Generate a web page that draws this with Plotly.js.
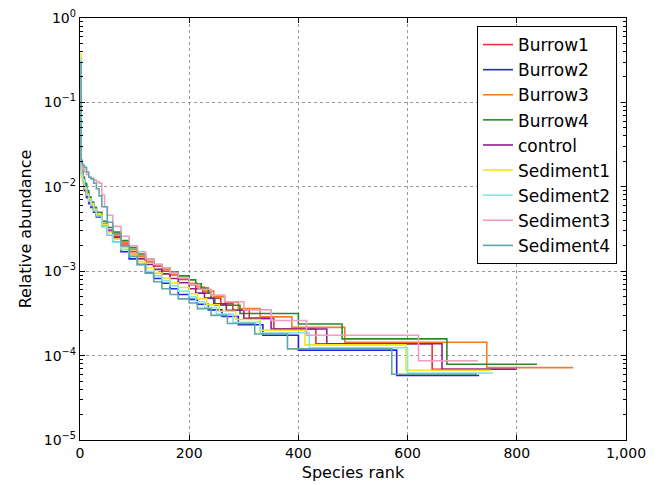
<!DOCTYPE html>
<html>
<head>
<meta charset="utf-8">
<script src="https://cdn.plot.ly/plotly-3.0.1.min.js"></script>
<style>html,body{margin:0;padding:0;background:#fff;}#chart{width:663px;height:485px;}</style>
</head>
<body>
<div id="chart"></div>
<script>
// Series names and colours
var seriesNames = ["Burrow1","Burrow2","Burrow3","Burrow4","control","Sediment1","Sediment2","Sediment3","Sediment4"];
var seriesColors = ["#e8333c","#2323e6","#f07d22","#2a8a2a","#8e208e","#f3e41e","#84e6ef","#f29cc2","#5fa6a6"];

// Ranks (step starts) and relative abundances
var burrow1Rank = [1,2,3,5,8,12,16,20,25,30,40,50,60,75,90,105,120,135,150,165,180,200,212,225,240,258,280,310,355,432,645,795];
var burrow1Abund = [0.038,0.02,0.016,0.013,0.0105,0.0085,0.0072,0.0062,0.0053,0.0046,0.0036,0.003,0.0026,0.0021,0.0017,0.0015,0.0013,0.00115,0.001,0.0009,0.0008,6.9e-4,6.2e-4,5.5e-4,4.8e-4,4.1e-4,3.45e-4,2.76e-4,2.07e-4,1.38e-4,6.9e-5,6.9e-5];

var burrow2Rank = [1,2,3,5,8,12,16,20,25,30,40,50,60,75,90,105,120,135,150,165,180,200,215,235,260,290,335,400,580,731];
var burrow2Abund = [0.05,0.016,0.014,0.012,0.0095,0.0075,0.0065,0.0057,0.005,0.0044,0.0034,0.0027,0.0022,0.0017,0.0014,0.0012,0.00095,0.00082,0.00072,0.00062,0.00053,4.64e-4,4.06e-4,3.48e-4,2.9e-4,2.32e-4,1.74e-4,1.16e-4,5.8e-5,5.8e-5];

var burrow3Rank = [1,2,3,5,8,12,16,20,25,30,40,50,60,75,90,105,120,135,150,165,180,200,215,228,245,265,290,330,388,485,745,903];
var burrow3Abund = [0.08,0.02,0.015,0.012,0.0098,0.0082,0.0071,0.0062,0.0054,0.0047,0.0037,0.0031,0.0027,0.0022,0.0018,0.0015,0.0013,0.00117,0.00104,0.00093,0.00082,7.2e-4,6.5e-4,5.8e-4,5.0e-4,4.3e-4,3.6e-4,2.88e-4,2.16e-4,1.44e-4,7.2e-5,7.2e-5];

var burrow4Rank = [1,2,3,5,8,12,16,20,25,30,40,50,60,75,90,105,120,135,150,165,180,200,212,222,235,240,247,293,400,480,672,837];
var burrow4Abund = [0.12,0.021,0.017,0.013,0.011,0.009,0.0076,0.0066,0.0057,0.005,0.0039,0.0033,0.0029,0.0023,0.0019,0.0016,0.0014,0.0012,0.0011,0.00098,0.00088,7.9e-4,7.1e-4,6.3e-4,5.5e-4,4.74e-4,3.95e-4,3.16e-4,2.37e-4,1.58e-4,7.9e-5,7.9e-5];

var controlRank = [1,2,3,5,8,12,16,20,25,30,40,50,60,75,90,105,120,135,150,165,180,200,212,228,245,268,300,350,452,663,800];
var controlAbund = [0.05,0.017,0.013,0.011,0.009,0.0075,0.0063,0.0058,0.0052,0.0046,0.0036,0.003,0.0025,0.002,0.0016,0.0014,0.0012,0.00105,0.00093,0.00082,0.00073,6.2e-4,5.5e-4,4.8e-4,4.1e-4,3.45e-4,2.76e-4,2.07e-4,1.38e-4,6.9e-5,6.9e-5];

var sediment1Rank = [1,2,3,5,8,12,16,20,25,30,40,50,60,75,90,105,120,135,150,165,180,200,215,232,255,285,330,412,597,752];
var sediment1Abund = [0.38,0.015,0.013,0.011,0.0095,0.0082,0.0072,0.0063,0.0054,0.0047,0.0036,0.0029,0.0024,0.0019,0.0016,0.0013,0.0011,0.00095,0.00083,0.00073,0.00064,5.4e-4,4.7e-4,4.0e-4,3.35e-4,2.68e-4,2.0e-4,1.34e-4,6.7e-5,6.7e-5];

var sediment2Rank = [1,2,3,5,8,12,16,20,25,30,40,50,60,75,90,105,120,135,150,165,180,200,212,228,250,280,330,420,600,756];
var sediment2Abund = [0.33,0.018,0.014,0.012,0.0098,0.008,0.0068,0.006,0.0052,0.0045,0.0034,0.0027,0.0022,0.0018,0.0015,0.0012,0.001,0.00088,0.00077,0.00067,0.00058,4.96e-4,4.34e-4,3.72e-4,3.1e-4,2.48e-4,1.86e-4,1.24e-4,6.2e-5,6.2e-5];

var sediment3Rank = [1,2,3,5,8,12,16,20,25,30,35,40,45,50,60,75,90,105,120,135,150,165,180,200,218,240,265,300,350,415,620,729];
var sediment3Abund = [0.03,0.02,0.018,0.016,0.015,0.014,0.013,0.0125,0.012,0.0115,0.011,0.008,0.0058,0.0046,0.0034,0.0026,0.002,0.0017,0.0014,0.0012,0.0011,0.00095,0.00083,6.96e-4,6.1e-4,5.2e-4,4.35e-4,3.48e-4,2.61e-4,1.74e-4,8.7e-5,8.7e-5];

var sediment4Rank = [1,2,3,5,8,12,16,20,25,30,35,40,50,60,75,90,105,120,135,150,165,180,200,215,240,270,320,380,571,727];
var sediment4Abund = [0.3,0.02,0.019,0.018,0.017,0.015,0.013,0.0125,0.011,0.0095,0.0078,0.0058,0.0038,0.0028,0.002,0.0015,0.0012,0.00095,0.00075,0.00062,0.00053,0.00047,4.2e-4,3.6e-4,3.0e-4,2.4e-4,1.8e-4,1.2e-4,6.0e-5,6.0e-5];

var allRanks = [burrow1Rank,burrow2Rank,burrow3Rank,burrow4Rank,controlRank,sediment1Rank,sediment2Rank,sediment3Rank,sediment4Rank];
var allAbund = [burrow1Abund,burrow2Abund,burrow3Abund,burrow4Abund,controlAbund,sediment1Abund,sediment2Abund,sediment3Abund,sediment4Abund];

// Tick labels
var xTickVals = [0,200,400,600,800,1000];
var xTickText = ["0","200","400","600","800","1,000"];
var yTickVals = [1,0.1,0.01,0.001,0.0001,0.00001];
var yTickText = ["10<sup>0</sup>","10<sup>\u22121</sup>","10<sup>\u22122</sup>","10<sup>\u22123</sup>","10<sup>\u22124</sup>","10<sup>\u22125</sup>"];

var traces = seriesNames.map(function(n, i){
  return {
    x: allRanks[i], y: allAbund[i], name: n, type: 'scatter', mode: 'lines',
    line: {color: seriesColors[i], width: 1.6, shape: 'hv'}
  };
});

var minorY = [];
for (var e = -5; e < 0; e++) { for (var m = 2; m <= 9; m++) { minorY.push(m * Math.pow(10, e)); } }

var font = "DejaVu Sans, sans-serif";
var layout = {
  width: 663, height: 485,
  margin: {l: 80, r: 37, t: 18, b: 45},
  paper_bgcolor: '#fff', plot_bgcolor: '#fff',
  font: {family: font, size: 14, color: '#000'},
  showlegend: true,
  legend: {
    x: 0.9835, xanchor: 'right', y: 0.981, yanchor: 'top',
    bgcolor: '#fff', bordercolor: '#000', borderwidth: 1,
    font: {family: font, size: 17, color: '#000'},
    tracegroupgap: 0
  },
  xaxis: {
    range: [0, 1000], tickmode: 'array', tickvals: xTickVals, ticktext: xTickText,
    ticks: 'inside', ticklen: 5, tickcolor: '#000',
    showline: true, linecolor: '#000', linewidth: 1.2, mirror: 'allticks',
    showgrid: true, gridcolor: '#999', griddash: 'dot', gridwidth: 1,
    zeroline: false,
    title: {text: 'Species rank', font: {family: font, size: 16}, standoff: 6},
    tickfont: {family: font, size: 14}
  },
  yaxis: {
    type: 'log', range: [-5, 0], tickmode: 'array', tickvals: yTickVals, ticktext: yTickText,
    ticks: 'inside', ticklen: 5, tickcolor: '#000',
    minor: {tickmode: 'array', tickvals: minorY, ticks: 'inside', ticklen: 3, tickcolor: '#000', showgrid: false},
    showline: true, linecolor: '#000', linewidth: 1.2, mirror: 'allticks',
    showgrid: true, gridcolor: '#999', griddash: 'dot', gridwidth: 1,
    zeroline: false,
    title: {text: 'Relative abundance', font: {family: font, size: 16}, standoff: 8},
    tickfont: {family: font, size: 14}
  }
};

Plotly.newPlot('chart', traces, layout, {displayModeBar: false, staticPlot: true});
</script>
</body>
</html>
